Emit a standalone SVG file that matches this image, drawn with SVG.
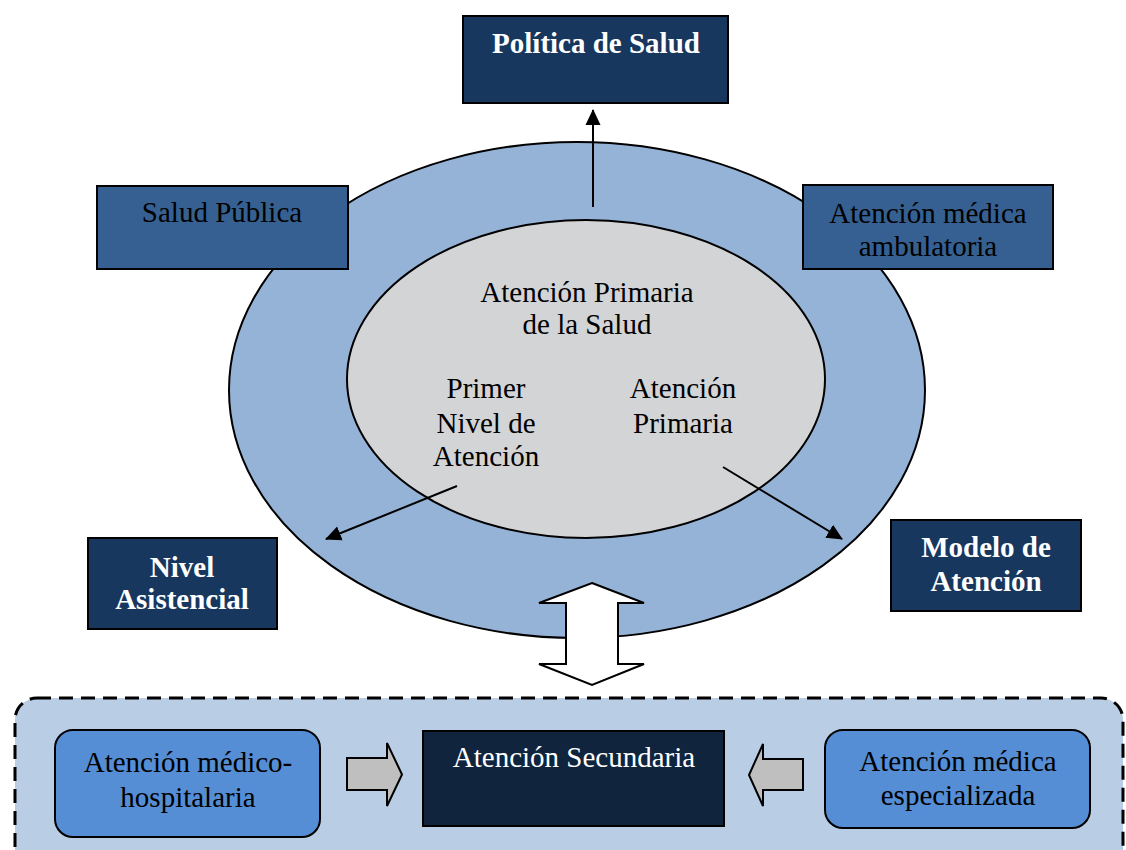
<svg xmlns="http://www.w3.org/2000/svg" width="1126" height="850" viewBox="0 0 1126 850">
  <defs>
    <style>
      text { font-family: "Liberation Serif", "Times New Roman", serif; font-size: 29px; text-anchor: middle; }
      .dark { fill: #000000; }
      .light { fill: #ffffff; }
      .bold { font-weight: bold; }
      .box { stroke: #000000; stroke-width: 2; }
      .navy { fill: #17375e; }
      .steel { fill: #366092; }
      .deep { fill: #10243e; }
      .sky { fill: #558ed5; }
      .conn { stroke: #000000; stroke-width: 2; fill: none; }
      .block { stroke: #000000; stroke-width: 2; stroke-linejoin: miter; }
    </style>
    <marker id="head" markerWidth="10" markerHeight="10" refX="9" refY="5" orient="auto" markerUnits="userSpaceOnUse" viewBox="0 0 10 10">
      <path d="M0,0 L10,5 L0,10 z" fill="#000000"/>
    </marker>
    <marker id="headL" markerWidth="16" markerHeight="16" refX="15" refY="8" orient="auto" markerUnits="userSpaceOnUse" viewBox="0 0 16 16">
      <path d="M0,0.5 L16,8 L0,15.5 z" fill="#000000"/>
    </marker>
  </defs>

  <rect width="1126" height="850" fill="#ffffff"/>

  <!-- secondary care band -->
  <g id="secondary-band">
    <rect x="15" y="698" width="1108" height="180" rx="22" ry="22" fill="#b9cde5" stroke="#000000" stroke-width="3" stroke-dasharray="14 8"/>
  </g>

  <!-- rings -->
  <g id="outer-ring">
    <ellipse cx="577" cy="390" rx="348" ry="248" fill="#95b3d7" stroke="#000000" stroke-width="2"/>
  </g>
  <g id="primary-care">
    <ellipse cx="586" cy="379" rx="239" ry="159" fill="#d3d4d6" stroke="#000000" stroke-width="2"/>
    <text class="dark" x="587" y="302">Atención Primaria</text>
    <text class="dark" x="587" y="334">de la Salud</text>
    <text class="dark" x="486" y="398">Primer</text>
    <text class="dark" x="486" y="433">Nivel de</text>
    <text class="dark" x="486" y="466">Atención</text>
    <text class="dark" x="683" y="398">Atención</text>
    <text class="dark" x="683" y="433">Primaria</text>
  </g>

  <!-- connectors -->
  <g id="connectors">
    <line class="conn" x1="593" y1="207" x2="593" y2="110" marker-end="url(#headL)"/>
    <line class="conn" x1="457" y1="486" x2="326" y2="539" marker-end="url(#headL)"/>
    <line class="conn" x1="723" y1="467" x2="842" y2="539" marker-end="url(#headL)"/>
    <polygon class="block" fill="#ffffff" points="592,583 644,603 618,603 618,664 644,664 592,685 539,664 566,664 566,603 539,603"/>
    <polygon class="block" fill="#bfbfbf" points="347,758 387,758 387,743 402,774.5 387,806 387,790 347,790"/>
    <polygon class="block" fill="#bfbfbf" points="803,759 763,759 763,744 749,775 763,806 763,790 803,790"/>
  </g>

  <!-- boxes -->
  <g id="politica-salud">
    <rect class="box navy" x="463" y="16" width="265" height="87"/>
    <text class="light bold" x="596" y="53">Política de Salud</text>
  </g>
  <g id="salud-publica">
    <rect class="box steel" x="97" y="186" width="251" height="83"/>
    <text class="dark" x="222" y="222">Salud Pública</text>
  </g>
  <g id="atencion-ambulatoria">
    <rect class="box steel" x="803" y="185" width="250" height="84"/>
    <text class="dark" x="928" y="223">Atención médica</text>
    <text class="dark" x="928" y="256">ambulatoria</text>
  </g>
  <g id="nivel-asistencial">
    <rect class="box navy" x="88" y="538" width="189" height="91"/>
    <text class="light bold" x="182" y="577">Nivel</text>
    <text class="light bold" x="182" y="609">Asistencial</text>
  </g>
  <g id="modelo-atencion">
    <rect class="box navy" x="891" y="520" width="190" height="91"/>
    <text class="light bold" x="986" y="557">Modelo de</text>
    <text class="light bold" x="986" y="591">Atención</text>
  </g>
  <g id="atencion-hospitalaria">
    <rect class="box sky" x="55" y="730" width="265" height="107" rx="18" ry="18"/>
    <text class="dark" x="188" y="772">Atención médico-</text>
    <text class="dark" x="188" y="807">hospitalaria</text>
  </g>
  <g id="atencion-secundaria">
    <rect class="box deep" x="423" y="731" width="301" height="95"/>
    <text class="light" x="574" y="767">Atención Secundaria</text>
  </g>
  <g id="atencion-especializada">
    <rect class="box sky" x="825" y="730" width="265" height="98" rx="18" ry="18"/>
    <text class="dark" x="958" y="771">Atención médica</text>
    <text class="dark" x="958" y="805">especializada</text>
  </g>
</svg>
